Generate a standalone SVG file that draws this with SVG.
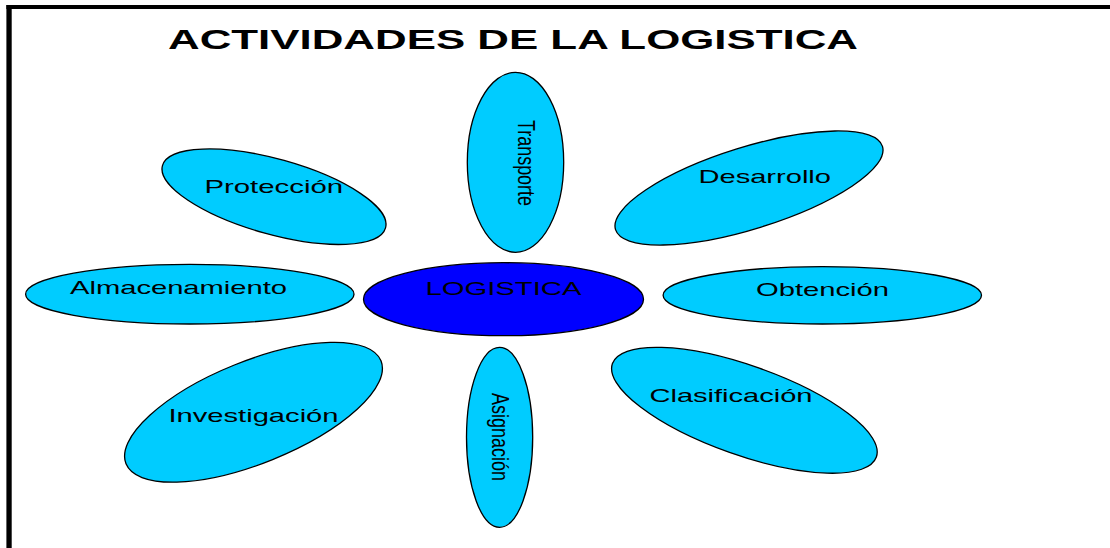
<svg xmlns="http://www.w3.org/2000/svg" width="1110" height="548" viewBox="0 0 1110 548">
<style>
.n{fill:#00ccff;stroke:#000;stroke-width:1.3}
.t{font-family:"Liberation Sans",Arial,sans-serif;font-size:18.5px;fill:#000}
.v{font-family:"Liberation Sans",Arial,sans-serif;font-size:24.500px;fill:#000}
.h{font-family:"Liberation Sans",Arial,sans-serif;font-size:28.500px;font-weight:bold;fill:#000}
</style>
<rect width="1110" height="548" fill="#fff"/>
<g id="frame"><rect x="6.400" y="5" width="1103.600" height="4"/><rect x="6.400" y="5" width="5.300" height="543"/></g>
<text id="title" class="h" x="168" y="49" textLength="690" lengthAdjust="spacingAndGlyphs">ACTIVIDADES DE LA LOGISTICA</text>
<g id="transporte"><ellipse class="n" cx="515.500" cy="162.300" rx="48.200" ry="90"/><text class="v" transform="translate(517.500 120) rotate(90)" textLength="86" lengthAdjust="spacingAndGlyphs">Transporte</text></g>
<g id="desarrollo"><ellipse class="n" cx="749" cy="188" rx="139.800" ry="40.900" transform="rotate(-17.300 749 188)"/><text class="t" x="698.500" y="183" textLength="132.500" lengthAdjust="spacingAndGlyphs">Desarrollo</text></g>
<g id="proteccion"><ellipse class="n" cx="274" cy="196.700" rx="115.800" ry="37.600" transform="rotate(15.600 274 196.700)"/><text class="t" x="204.500" y="193" textLength="138.500" lengthAdjust="spacingAndGlyphs">Protección</text></g>
<g id="almacenamiento"><ellipse class="n" cx="189.800" cy="294.200" rx="164.200" ry="29.800"/><text class="t" x="70" y="294" textLength="217" lengthAdjust="spacingAndGlyphs">Almacenamiento</text></g>
<g id="logistica"><ellipse cx="503.500" cy="299.200" rx="140" ry="36.500" fill="#0000ff" stroke="#000" stroke-width="1.300"/><text class="t" x="425.500" y="295" textLength="156" lengthAdjust="spacingAndGlyphs">LOGISTICA</text></g>
<g id="obtencion"><ellipse class="n" cx="822.300" cy="295.300" rx="159.200" ry="28.700"/><text class="t" x="756" y="296" textLength="133" lengthAdjust="spacingAndGlyphs">Obtención</text></g>
<g id="investigacion"><ellipse class="n" cx="253.500" cy="412.300" rx="137.500" ry="51" transform="rotate(-22 253.500 412.300)"/><text class="t" x="168.500" y="422" textLength="170" lengthAdjust="spacingAndGlyphs">Investigación</text></g>
<g id="asignacion"><ellipse class="n" cx="499.600" cy="437.300" rx="33.100" ry="90"/><text class="v" transform="translate(492 393) rotate(90)" textLength="88" lengthAdjust="spacingAndGlyphs">Asignación</text></g>
<g id="clasificacion"><ellipse class="n" cx="744.400" cy="410.300" rx="140" ry="44.700" transform="rotate(19.500 744.400 410.300)"/><text class="t" x="649.500" y="402" textLength="163" lengthAdjust="spacingAndGlyphs">Clasificación</text></g>
</svg>
